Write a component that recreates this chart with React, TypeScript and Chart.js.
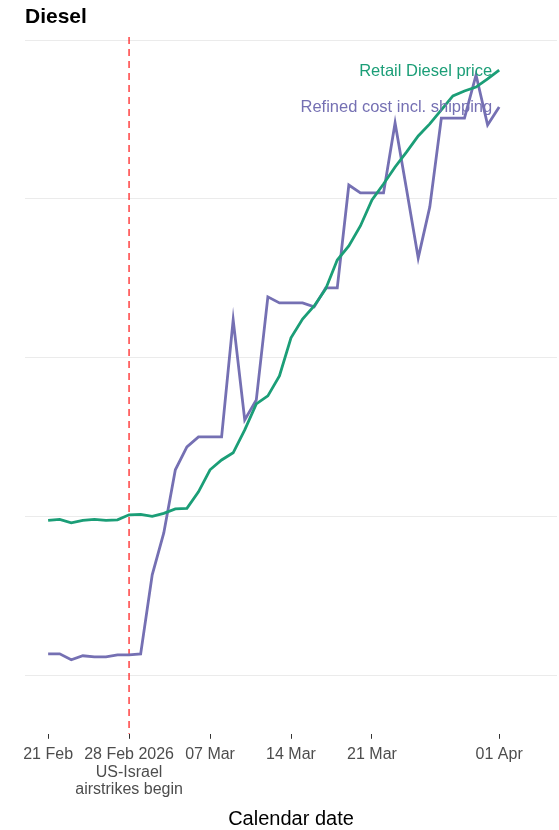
import React, { useEffect, useRef } from "react";
import { Chart, registerables } from "chart.js";

Chart.register(...registerables);

// Daily observations, 21 Feb 2026 .. 01 Apr 2026
const dates = [
  "2026-02-21", "2026-02-22", "2026-02-23", "2026-02-24", "2026-02-25", "2026-02-26", "2026-02-27", "2026-02-28",
  "2026-03-01", "2026-03-02", "2026-03-03", "2026-03-04", "2026-03-05", "2026-03-06", "2026-03-07", "2026-03-08",
  "2026-03-09", "2026-03-10", "2026-03-11", "2026-03-12", "2026-03-13", "2026-03-14", "2026-03-15", "2026-03-16",
  "2026-03-17", "2026-03-18", "2026-03-19", "2026-03-20", "2026-03-21", "2026-03-22", "2026-03-23", "2026-03-24",
  "2026-03-25", "2026-03-26", "2026-03-27", "2026-03-28", "2026-03-29", "2026-03-30", "2026-03-31", "2026-04-01",
];

const retailDiesel = [
  1.978, 1.984, 1.962, 1.978, 1.984, 1.978, 1.981, 2.013,
  2.016, 2.003, 2.022, 2.05, 2.053, 2.157, 2.296, 2.358,
  2.403, 2.547, 2.711, 2.761, 2.887, 3.126, 3.245, 3.327,
  3.434, 3.616, 3.704, 3.83, 3.994, 4.094, 4.201, 4.296,
  4.396, 4.472, 4.56, 4.648, 4.679, 4.704, 4.755, 4.811,
];

const refinedCost = [
  1.138, 1.138, 1.101, 1.126, 1.119, 1.119, 1.132, 1.132,
  1.138, 1.635, 1.899, 2.296, 2.44, 2.503, 2.503, 2.503,
  3.239, 2.61, 2.736, 3.384, 3.346, 3.346, 3.346, 3.321,
  3.44, 3.44, 4.088, 4.038, 4.038, 4.038, 4.478, 4.057,
  3.629, 3.95, 4.509, 4.509, 4.509, 4.78, 4.465, 4.579,
];

const seriesNames = ["Retail Diesel price", "Refined cost incl. shipping"];
const seriesColors = ["#1b9e77", "#7570b3"];

const tickDays = [0, 7, 14, 21, 28, 39];
const tickLabels = ["21 Feb", "28 Feb 2026", "07 Mar", "14 Mar", "21 Mar", "01 Apr"];
const gridValues = [1, 2, 3, 4, 5];

const eventDay = 7;
const eventLabel = ["US-Israel", "airstrikes begin"];
const chartTitle = "Diesel";
const xTitle = "Calendar date";

const FONT = "'Liberation Sans', Arial, Helvetica, sans-serif";

const overlay = {
  id: "overlay",
  beforeDatasetsDraw(chart: any) {
    const { ctx, chartArea, scales } = chart;
    const x = scales.x.getPixelForValue(eventDay);
    ctx.save();
    ctx.strokeStyle = "rgba(255,0,0,0.62)";
    ctx.lineWidth = 1.8;
    ctx.setLineDash([7, 5]);
    ctx.beginPath();
    ctx.moveTo(x, chartArea.top);
    ctx.lineTo(x, chartArea.bottom);
    ctx.stroke();
    ctx.restore();
  },
  afterDraw(chart: any) {
    const { ctx, scales } = chart;
    ctx.save();
    // title
    ctx.fillStyle = "#000";
    ctx.font = `bold 21px ${FONT}`;
    ctx.textAlign = "left";
    ctx.textBaseline = "middle";
    ctx.fillText(chartTitle, 25, 17);
    // event annotation
    const ex = scales.x.getPixelForValue(eventDay);
    ctx.fillStyle = "#4d4d4d";
    ctx.font = `16px ${FONT}`;
    ctx.textAlign = "center";
    eventLabel.forEach((t, i) => ctx.fillText(t, ex, 773 + i * 17));
    // series labels
    const last = dates.length - 1;
    const lx = scales.x.getPixelForValue(last) - 7;
    ctx.font = `16.5px ${FONT}`;
    ctx.textAlign = "right";
    [retailDiesel, refinedCost].forEach((s, i) => {
      ctx.fillStyle = seriesColors[i];
      ctx.fillText(seriesNames[i], lx, scales.y.getPixelForValue(s[last]) + 1);
    });
    ctx.restore();
  },
};

export default function App() {
  const ref = useRef<HTMLCanvasElement | null>(null);
  useEffect(() => {
    document.body.style.margin = "0";
    if (!ref.current) return;
    const chart = new Chart(ref.current, {
      type: "line",
      data: {
        datasets: [
          {
            label: seriesNames[0],
            data: retailDiesel.map((v, i) => ({ x: i, y: v })),
            borderColor: seriesColors[0],
            borderWidth: 2.8,
            pointRadius: 0,
            tension: 0,
          },
          {
            label: seriesNames[1],
            data: refinedCost.map((v, i) => ({ x: i, y: v })),
            borderColor: seriesColors[1],
            borderWidth: 2.8,
            pointRadius: 0,
            tension: 0,
          },
        ],
      },
      options: {
        animation: false,
        responsive: false,
        maintainAspectRatio: false,
        layout: { padding: { left: 25, right: 2, top: 37, bottom: 0 } },
        plugins: { legend: { display: false }, tooltip: { enabled: false }, title: { display: false } },
        scales: {
          x: {
            type: "linear",
            min: -2,
            max: 44,
            afterBuildTicks: (scale: any) => {
              scale.ticks = tickDays.map((v) => ({ value: v }));
            },
            ticks: {
              autoSkip: false,
              maxRotation: 0,
              padding: 6,
              color: "#4d4d4d",
              font: { family: FONT, size: 16 },
              callback: (v: any) => {
                const idx = tickDays.indexOf(Number(v));
                return idx >= 0 ? tickLabels[idx] : "";
              },
            },
            grid: { drawOnChartArea: false, drawTicks: true, tickLength: 5, color: "#333", lineWidth: 1 },
            border: { display: false },
            title: {
              display: true,
              text: xTitle,
              color: "#000",
              font: { family: FONT, size: 20, lineHeight: 1 },
              padding: { top: 39, bottom: 1 },
            },
          },
          y: {
            type: "linear",
            min: 0.635,
            max: 5.019,
            afterBuildTicks: (scale: any) => {
              scale.ticks = gridValues.map((v) => ({ value: v }));
            },
            ticks: { display: false },
            grid: { drawTicks: false, color: "#ebebeb", lineWidth: 1 },
            border: { display: false },
          },
        },
      },
      plugins: [overlay],
    });
    return () => chart.destroy();
  }, []);
  return (
    <div style={{ width: 559, height: 830 }}>
      <canvas ref={ref} width={559} height={830} style={{ display: "block" }} />
    </div>
  );
}
